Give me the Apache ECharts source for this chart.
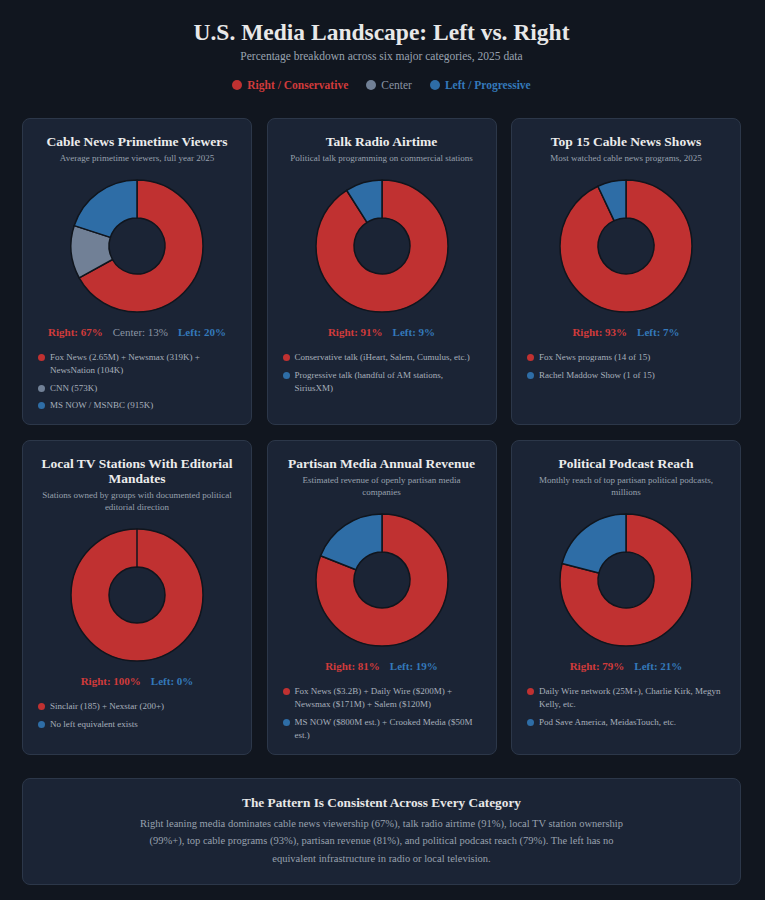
<!DOCTYPE html>
<html>
<head>
<meta charset="utf-8">
<script src="https://cdn.jsdelivr.net/npm/echarts@6/dist/echarts.min.js"></script>
<style>
  html, body { margin: 0; padding: 0; background: #11161f; }
  body { width: 765px; height: 900px; font-family: "Liberation Serif", "DejaVu Serif", serif; color: #e6e6e6; }
  .wrap { position: absolute; left: 22px; top: 0; width: 719px; }
  .head { text-align: center; padding-top: 19px; }
  .head h1 { margin: 0; font-size: 23.5px; line-height: 26px; font-weight: bold; color: #e8e8e8; }
  .head .sub { margin-top: 4px; font-size: 11.5px; line-height: 14px; color: #9aa3b0; }
  .legend { margin-top: 15px; font-size: 11.5px; line-height: 14px; display: flex; justify-content: center; gap: 18px; }
  .legend span { display: inline-flex; align-items: center; }
  .legend i { display: inline-block; width: 10px; height: 10px; border-radius: 50%; margin-right: 5px; }
  .grid { margin-top: 26px; display: grid; grid-template-columns: repeat(3, 230px); column-gap: 14.5px; row-gap: 15px; }
  .card { box-sizing: border-box; background: #1b2435; border: 1px solid #2c3749; border-radius: 8px; padding: 15px 14px 12px 14px; display: flex; flex-direction: column; }
  .card h3 { margin: 0; text-align: center; font-size: 13.5px; line-height: 15px; color: #ececec; }
  .card .sub { margin-top: 3px; text-align: center; font-size: 9px; line-height: 12px; color: #98a1ae; padding: 0 2px; }
  .card .chart { margin-top: 7px; width: 100%; height: 150px; }
  .card .stats { margin-top: 3px; text-align: center; font-size: 11px; line-height: 16px; }
  .card .stats b, .card .stats span { margin: 0 5px; }
  .card ul { list-style: none; margin: 11px 0 0 0; padding: 0; }
  .card li { display: flex; font-size: 9px; line-height: 13px; color: #a8b0bc; margin-bottom: 4.5px; }
  .card li:last-child { margin-bottom: 0; }
  .card li i { flex: none; width: 7px; height: 7px; border-radius: 50%; margin: 3px 5px 0 1px; }
  .summary { box-sizing: border-box; margin-top: 23px; background: #1b2435; border: 1px solid #2c3749; border-radius: 8px; padding: 16px 20px 16px 20px; text-align: center; height: 107px; }
  .summary h3 { margin: 0; font-size: 13.3px; line-height: 16px; color: #e8e8e8; }
  .summary p { margin: 4px auto 0 auto; max-width: 500px; font-size: 10.5px; line-height: 17.5px; color: #98a1ae; }
</style>
</head>
<body>
<div class="wrap">
  <div class="head">
    <h1>U.S. Media Landscape: Left vs. Right</h1>
    <div class="sub">Percentage breakdown across six major categories, 2025 data</div>
    <div class="legend" id="legend"></div>
  </div>
  <div class="grid" id="grid"></div>
  <div class="summary">
    <h3>The Pattern Is Consistent Across Every Category</h3>
    <p>Right leaning media dominates cable news viewership (67%), talk radio airtime (91%), local TV station ownership (99%+), top cable programs (93%), partisan revenue (81%), and political podcast reach (79%). The left has no equivalent infrastructure in radio or local television.</p>
  </div>
</div>
<script>
  // 分类和颜色
  var sides = ['Right', 'Center', 'Left'];
  var sideLabels = ['Right / Conservative', 'Center', 'Left / Progressive'];
  var sideColors = ['#c03131', '#718096', '#2e6da6'];
  var statColors = ['#d13b3b', '#8a94a3', '#3479ba'];

  // 每张卡片
  var titles = [
    'Cable News Primetime Viewers',
    'Talk Radio Airtime',
    'Top 15 Cable News Shows',
    'Local TV Stations With Editorial Mandates',
    'Partisan Media Annual Revenue',
    'Political Podcast Reach'
  ];
  var subtitles = [
    'Average primetime viewers, full year 2025',
    'Political talk programming on commercial stations',
    'Most watched cable news programs, 2025',
    'Stations owned by groups with documented political editorial direction',
    'Estimated revenue of openly partisan media companies',
    'Monthly reach of top partisan political podcasts, millions'
  ];
  var rightValues = [67, 91, 93, 100, 81, 79];
  var centerValues = [13, null, null, null, null, null];
  var leftValues = [20, 9, 7, 0, 19, 21];

  var rightNotes = [
    'Fox News (2.65M) + Newsmax (319K) + NewsNation (104K)',
    'Conservative talk (iHeart, Salem, Cumulus, etc.)',
    'Fox News programs (14 of 15)',
    'Sinclair (185) + Nexstar (200+)',
    'Fox News ($3.2B) + Daily Wire ($200M) + Newsmax ($171M) + Salem ($120M)',
    'Daily Wire network (25M+), Charlie Kirk, Megyn Kelly, etc.'
  ];
  var centerNotes = ['CNN (573K)', null, null, null, null, null];
  var leftNotes = [
    'MS NOW / MSNBC (915K)',
    'Progressive talk (handful of AM stations, SiriusXM)',
    'Rachel Maddow Show (1 of 15)',
    'No left equivalent exists',
    'MS NOW ($800M est.) + Crooked Media ($50M est.)',
    'Pod Save America, MeidasTouch, etc.'
  ];

  // 顶部图例
  var lg = '';
  sideLabels.forEach(function (label, k) {
    var w = k === 1 ? 'normal' : 'bold';
    var c = k === 1 ? '#8a94a3' : statColors[k];
    lg += '<span style="color:' + c + ';font-weight:' + w + '"><i style="background:' + sideColors[k] + '"></i>' + label + '</span>';
  });
  document.getElementById('legend').innerHTML = lg;

  var grid = document.getElementById('grid');
  titles.forEach(function (title, idx) {
    var vals = [rightValues[idx], centerValues[idx], leftValues[idx]];
    var notes = [rightNotes[idx], centerNotes[idx], leftNotes[idx]];

    var stats = '';
    var items = '';
    vals.forEach(function (v, k) {
      if (v === null) return;
      var tag = k === 1 ? 'span' : 'b';
      stats += '<' + tag + ' style="color:' + statColors[k] + '">' + sides[k] + ': ' + v + '%</' + tag + '>';
    });
    notes.forEach(function (n, k) {
      if (n === null) return;
      items += '<li><i style="background:' + sideColors[k] + '"></i><span>' + n + '</span></li>';
    });

    var card = document.createElement('div');
    card.className = 'card';
    card.innerHTML = '<h3>' + title + '</h3><div class="sub">' + subtitles[idx] + '</div>' +
      '<div class="chart"></div><div class="stats">' + stats + '</div><ul>' + items + '</ul>';
    grid.appendChild(card);

    var data = [];
    vals.forEach(function (v, k) {
      if (v === null) return;
      data.push({ name: sides[k], value: v, itemStyle: { color: sideColors[k] } });
    });

    var chart = echarts.init(card.querySelector('.chart'));
    chart.setOption({
      animation: false,
      series: [{
        type: 'pie',
        radius: [28, 66],
        center: ['50%', '50%'],
        startAngle: 90,
        clockwise: true,
        label: { show: false },
        labelLine: { show: false },
        emphasis: { disabled: true },
        itemStyle: { borderColor: '#10151d', borderWidth: 1.5 },
        data: data
      }]
    });
  });
</script>
</body>
</html>
